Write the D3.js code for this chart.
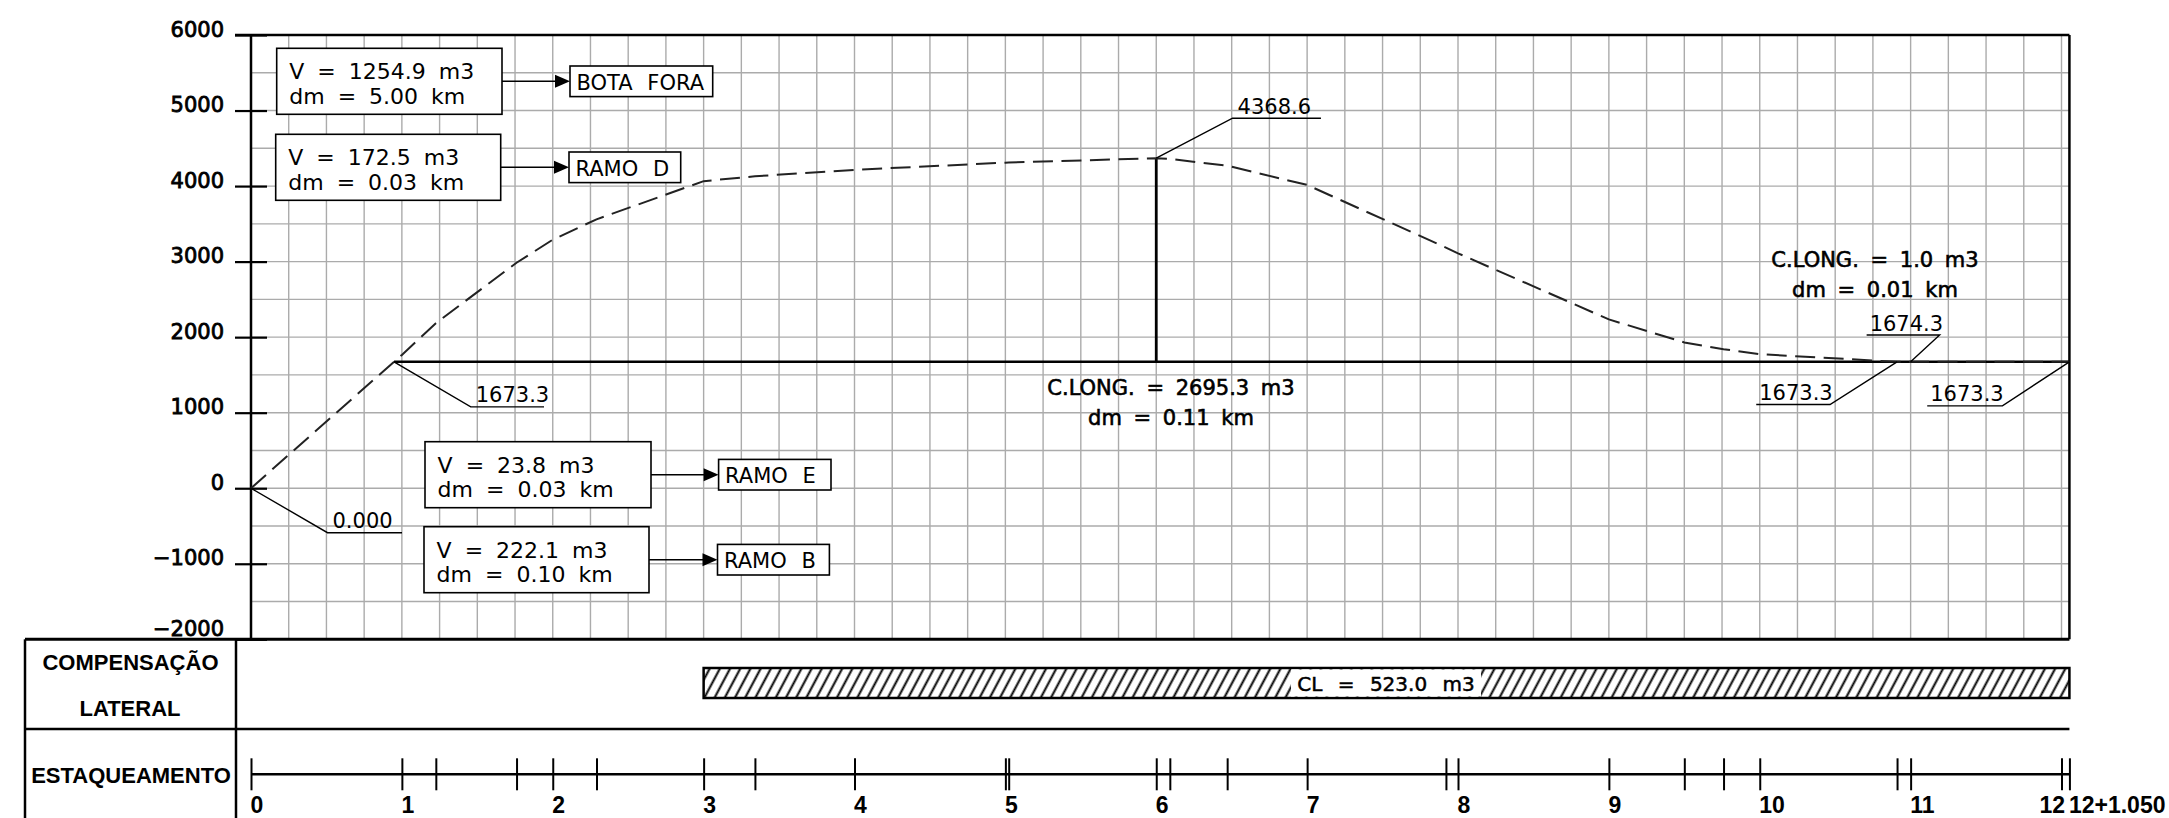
<!DOCTYPE html>
<html><head><meta charset="utf-8">
<script src="https://cdn.jsdelivr.net/npm/d3@7"></script>
<style>body{margin:0;background:#fff}svg{display:block}</style>
</head><body><svg id="c" width="2169" height="818"></svg>
<script>
// ---------- data ----------
const stations   = [0, 1, 1.225, 1.76, 2, 2.29, 3, 3.34, 4, 5, 5.022, 6, 6.09, 6.47, 7, 7.92, 8, 9, 9.5, 9.76, 10, 10.91, 11, 12, 12.0525];
const massValues = [0, 1765, 2185, 2985, 3290, 3560, 4065, 4130, 4215, 4310, 4311, 4368.6, 4360, 4270, 4015, 3185, 3110, 2235, 1930, 1840, 1775, 1673.3, 1674.3, 1673.8, 1673.3];
const yTickValues = [6000, 5000, 4000, 3000, 2000, 1000, 0, -1000, -2000];
const yTickLabels = ["6000", "5000", "4000", "3000", "2000", "1000", "0", "\u22121000", "\u22122000"];
const stationLabelPos = [0,1,2,3,4,5,6,7,8,9,10,11,12,12.0525];
const stationLabelTxt = ["0","1","2","3","4","5","6","7","8","9","10","11","12","12+1.050"];
const endStation = 12.0525;
const distLevel = 1673.3, distStart = 0.948;
const peakStation = 6, peakValue = 4368.6;
const transportVol  = ["V = 1254.9 m3", "V = 172.5 m3", "V = 23.8 m3", "V = 222.1 m3"];
const transportDm   = ["dm = 5.00 km", "dm = 0.03 km", "dm = 0.03 km", "dm = 0.10 km"];
const transportDest = ["BOTA FORA", "RAMO D", "RAMO E", "RAMO B"];
const valueLabelSt  = [0, 0.948, 6, 11, 10.91, 12.0525];
const valueLabelV   = [0, 1673.3, 4368.6, 1674.3, 1673.3, 1673.3];
const valueLabelTxt = ["0.000", "1673.3", "4368.6", "1674.3", "1673.3", "1673.3"];
const clongText = [["C.LONG. = 2695.3 m3", "dm = 0.11 km"], ["C.LONG. = 1.0 m3", "dm = 0.01 km"]];
const clStart = 3, clText = "CL = 523.0 m3";
const rowLabels = ["COMPENSAÇÃO", "LATERAL", "ESTAQUEAMENTO"];

// ---------- layout (pixels) ----------
const boxLayout  = [[276.7,48.3],[275.7,134.3],[425,441.7],[424,526.7]];
const boxW = [225.3, 225, 226, 225], boxH = 66;
const destLayout = [[570,142.7],[569,111.7],[718.6,112.4],[717.5,111.9]];
const destH = 30.6;
const leaderLayout = [[76.5,44.5,1,74.5],[76.7,45,1,73.3],[76.3,-40,1,88.4],[29,-26.7,-1,73],[-67,42.7,-1,73.8],[-67,44,-1,75.2]];
const clongLayout = [[1171,395],[1875,266.7]];

const svg = d3.select("#c");
const x = d3.scaleLinear().domain([0, 12]).range([251, 2061.5]);
const y = d3.scaleLinear().domain([-2000, 6000]).range([639.3, 35]);
const X0 = x(0), XE = x(endStation), YT = y(6000), YB = y(-2000);
const CAD = "'DejaVu Sans', sans-serif";
const BOLD = "'Liberation Sans', Arial, sans-serif";

const defs = svg.append("defs");
const pat = defs.append("pattern").attr("id","hatch").attr("patternUnits","userSpaceOnUse")
  .attr("width",9).attr("height",40).attr("patternTransform","rotate(28)");
pat.append("line").attr("x1",4.5).attr("x2",4.5).attr("y1",-5).attr("y2",45).attr("stroke","#000").attr("stroke-width",2);

// grid
const grid = svg.append("g").attr("stroke","#ababab").attr("stroke-width",1.4);
grid.selectAll("line.v").data(d3.range(0.25, 12.001, 0.25)).join("line")
  .attr("x1", d=>x(d)).attr("x2", d=>x(d)).attr("y1", YT).attr("y2", YB);
grid.selectAll("line.h").data(d3.range(-1500, 5501, 500)).join("line")
  .attr("x1", X0).attr("x2", XE).attr("y1", d=>y(d)).attr("y2", d=>y(d));

// y axis
const yAxis = d3.axisLeft(y).tickValues(yTickValues).tickFormat((d,i)=>yTickLabels[i]).tickSize(16).tickPadding(0);
const ga = svg.append("g").attr("transform",`translate(${X0},0)`).call(yAxis);
ga.select(".domain").remove();
ga.selectAll(".tick line").attr("x1",16).attr("stroke","#000").attr("stroke-width",2.2);
ga.selectAll(".tick text").attr("x",-27).attr("dy",d=> d===-2000 ? "-0.2em" : "0.05em")
  .style("font-family",CAD).style("font-size","21px").attr("fill","#000")
  .attr("stroke","#000").attr("stroke-width",0.8);

// frame
const frame = svg.append("g").attr("stroke","#000").attr("stroke-width",2.5).attr("fill","none");
frame.append("line").attr("x1",X0).attr("x2",X0).attr("y1",YT).attr("y2",YB);
frame.append("line").attr("x1",235).attr("x2",XE).attr("y1",YT).attr("y2",YT);
frame.append("line").attr("x1",XE).attr("x2",XE).attr("y1",YT).attr("y2",YB);
frame.append("line").attr("x1",25).attr("x2",XE).attr("y1",YB).attr("y2",YB).attr("stroke-width",3);
frame.append("line").attr("x1",25).attr("x2",25).attr("y1",YB).attr("y2",818);
frame.append("line").attr("x1",236).attr("x2",236).attr("y1",YB).attr("y2",818);
frame.append("line").attr("x1",25).attr("x2",XE).attr("y1",729).attr("y2",729);

// distribution line and peak ordinate
svg.append("line").attr("x1",x(distStart)).attr("x2",XE).attr("y1",y(distLevel)).attr("y2",y(distLevel))
  .attr("stroke","#000").attr("stroke-width",2.5);
svg.append("line").attr("x1",x(peakStation)).attr("x2",x(peakStation)).attr("y1",y(distLevel)).attr("y2",y(peakValue))
  .attr("stroke","#000").attr("stroke-width",2.8);

// mass curve
const line = d3.line().x((d,i)=>x(stations[i])).y(d=>y(d));
svg.append("path").attr("d", line(massValues)).attr("fill","none")
  .attr("stroke","#222").attr("stroke-width",2).attr("stroke-dasharray","20 8.5");

// value labels with leaders
valueLabelTxt.forEach((t,i)=>{
  const px = x(valueLabelSt[i]), py = y(valueLabelV[i]);
  const [dx,dy,dir,len] = leaderLayout[i];
  const ex = px+dx, ey = py+dy, ux = ex+dir*len;
  svg.append("polyline").attr("points",`${px},${py} ${ex},${ey} ${ux},${ey}`)
    .attr("fill","none").attr("stroke","#000").attr("stroke-width",1.4);
  svg.append("text").attr("x", dir>0 ? ex+5 : ux+3).attr("y", ey-4.5).text(t)
    .style("font-family",CAD).style("font-size","21px").attr("fill","#000");
});

// transport boxes
transportVol.forEach((t,i)=>{
  const [bx,by] = boxLayout[i];
  const g = svg.append("g");
  g.append("rect").attr("x",bx).attr("y",by).attr("width",boxW[i]).attr("height",boxH)
    .attr("fill","#fff").attr("stroke","#000").attr("stroke-width",1.6);
  g.append("text").attr("x",bx+12.6).attr("y",by+31).text(t);
  g.append("text").attr("x",bx+12.6).attr("y",by+55.7).text(transportDm[i]);
  const cy = by+boxH/2, [dx,dw] = destLayout[i];
  g.append("line").attr("x1",bx+boxW[i]).attr("x2",dx-14).attr("y1",cy).attr("y2",cy).attr("stroke","#000").attr("stroke-width",1.6);
  g.append("path").attr("d",`M${dx},${cy} L${dx-15},${cy-6.5} L${dx-15},${cy+6.5} Z`).attr("fill","#000");
  g.append("rect").attr("x",dx).attr("y",cy-destH/2).attr("width",dw).attr("height",destH)
    .attr("fill","#fff").attr("stroke","#000").attr("stroke-width",1.6);
  g.append("text").attr("x",dx+6.5).attr("y",cy+8.7).text(transportDest[i]).style("word-spacing","8px").style("font-size","21px");
  g.selectAll("text").style("font-family",CAD).attr("fill","#000");
  g.selectAll("text").filter(function(){return !this.style.fontSize;}).style("font-size","22px").style("word-spacing","6px");
});

// C.LONG. texts
clongText.forEach((pair,i)=>{
  const [cx,cy] = clongLayout[i];
  pair.forEach((t,j)=>{
    svg.append("text").attr("x",cx).attr("y",cy+j*30).attr("text-anchor","middle").text(t)
      .style("font-family",CAD).style("font-size","21px").style("word-spacing","5px")
      .attr("fill","#000").attr("stroke","#000").attr("stroke-width",0.6);
  });
});

// compensação lateral bar
svg.append("rect").attr("x",x(clStart)).attr("y",668).attr("width",XE-x(clStart)).attr("height",30)
  .attr("fill","url(#hatch)").attr("stroke","#000").attr("stroke-width",2.5);
const clX = 1386;
svg.append("rect").attr("x",clX-95).attr("y",669.5).attr("width",190).attr("height",27).attr("fill","#fff");
svg.append("text").attr("x",clX).attr("y",691).attr("text-anchor","middle").text(clText)
  .style("font-family",CAD).style("font-size","20px").style("word-spacing","9px")
  .attr("fill","#000").attr("stroke","#000").attr("stroke-width",0.5);

// row labels
[[130.5,670],[130,716],[131,783]].forEach((p,i)=>{
  svg.append("text").attr("x",p[0]).attr("y",p[1]).attr("text-anchor","middle").text(rowLabels[i])
    .style("font-family",BOLD).style("font-weight","bold").style("font-size","22px").attr("fill","#000");
});

// estaqueamento axis
const sAxis = d3.axisBottom(x).tickValues(stations).tickFormat("").tickSize(16);
const gs = svg.append("g").attr("transform","translate(0,774.3)").call(sAxis);
gs.select(".domain").remove();
gs.selectAll(".tick line").attr("y1",-16).attr("stroke","#000").attr("stroke-width",2);
svg.append("line").attr("x1",X0).attr("x2",XE).attr("y1",774.3).attr("y2",774.3).attr("stroke","#000").attr("stroke-width",2.5);
svg.selectAll("text.st").data(stationLabelTxt).join("text").attr("class","st")
  .attr("x",(d,i)=> d==="12" ? x(stationLabelPos[i])+3.5 : x(stationLabelPos[i])-0.5)
  .attr("text-anchor",d=> d==="12" ? "end" : "start")
  .attr("y",812.5).text(d=>d)
  .style("font-family",BOLD).style("font-weight","bold").style("font-size","23px").attr("fill","#000");
</script></body></html>
